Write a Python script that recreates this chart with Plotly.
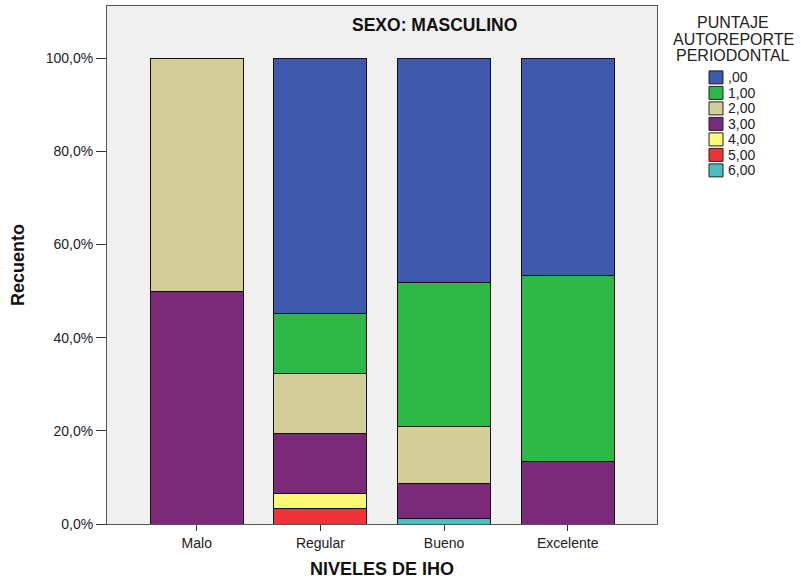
import plotly.graph_objects as go

categories = ["Malo", "Regular", "Bueno", "Excelente"]
series_names = [",00", "1,00", "2,00", "3,00", "4,00", "5,00", "6,00"]
# percentages per category for each score
s_00 = [0.0, 54.84, 48.15, 46.67]
s_10 = [0.0, 12.90, 30.86, 40.00]
s_20 = [50.0, 12.90, 12.35, 0.0]
s_30 = [50.0, 12.90, 7.41, 13.33]
s_40 = [0.0, 3.23, 0.0, 0.0]
s_50 = [0.0, 3.23, 0.0, 0.0]
s_60 = [0.0, 0.0, 1.23, 0.0]
colors = ["#3E58AC", "#2EB848", "#D4CE98", "#7B2A79", "#FBF873", "#EF3338", "#48C0BF"]
y_tickvals = [0, 20, 40, 60, 80, 100]
y_ticktext = ["0,0%", "20,0%", "40,0%", "60,0%", "80,0%", "100,0%"]
legend_title_lines = ["PUNTAJE", "AUTOREPORTE", "PERIODONTAL"]

values = [s_00, s_10, s_20, s_30, s_40, s_50, s_60]

W, H = 801, 579
L, R, T, B = 107, 144, 6, 55
PW, PH = W - L - R, H - T - B


def xp(px):
    return (px - L) / PW


def yp(py):
    return (H - B - py) / PH


fig = go.Figure()
# stack from bottom (6,00) to top (,00)
for name, vals, col in reversed(list(zip(series_names, values, colors))):
    fig.add_trace(go.Bar(
        x=categories, y=vals, name=name,
        marker=dict(color=col, line=dict(color="#111111", width=1)),
        width=0.752, showlegend=False,
    ))

annotations = [
    dict(text="<b>SEXO: MASCULINO</b>", x=xp(434), xref="paper", y=yp(25), yref="paper",
         xanchor="center", yanchor="middle", showarrow=False,
         font=dict(size=17.5, color="#111111")),
]
for i, line in enumerate(legend_title_lines):
    annotations.append(dict(text=line, x=xp(733), xref="paper", y=yp(22.5 + 16.7 * i), yref="paper",
                            xanchor="center", yanchor="middle", showarrow=False,
                            font=dict(size=16, color="#222222")))

shapes = []
for i, (name, col) in enumerate(zip(series_names, colors)):
    cy = 77.4 + 15.5 * i
    shapes.append(dict(type="rect", xref="paper", yref="paper",
                       x0=xp(709), x1=xp(723), y0=yp(cy + 6.5), y1=yp(cy - 6.5),
                       fillcolor=col, line=dict(color="#222222", width=1)))
    annotations.append(dict(text=name, x=xp(726), xref="paper", y=yp(cy), yref="paper",
                            xanchor="left", yanchor="middle", showarrow=False,
                            font=dict(size=14, color="#222222")))

fig.update_layout(
    barmode="stack",
    width=W, height=H,
    paper_bgcolor="white",
    plot_bgcolor="#F0F0F0",
    margin=dict(l=L, r=R, t=T, b=B, autoexpand=False),
    font=dict(family="Arial, Liberation Sans, sans-serif", color="#222222"),
    showlegend=False,
    annotations=annotations,
    shapes=shapes,
)

fig.update_xaxes(
    range=[-0.726, 3.722],
    showline=True, linecolor="#555555", linewidth=1, mirror=True,
    ticks="outside", ticklen=6, tickcolor="#333333",
    tickfont=dict(size=14, color="#222222"),
    title=dict(text="<b>NIVELES DE IHO</b>", font=dict(size=18, color="#111111"), standoff=12),
)
fig.update_yaxes(
    range=[0, 111.2],
    tickvals=y_tickvals, ticktext=y_ticktext,
    showgrid=False, zeroline=False,
    showline=True, linecolor="#555555", linewidth=1, mirror=True,
    ticks="outside", ticklen=10, tickcolor="#333333",
    tickfont=dict(size=14, color="#222222"),
    title=dict(text="<b>Recuento</b>", font=dict(size=18, color="#111111"), standoff=16),
)

fig.write_html("out.html", config={"displayModeBar": False},
               post_script="document.body.style.margin='0';")
